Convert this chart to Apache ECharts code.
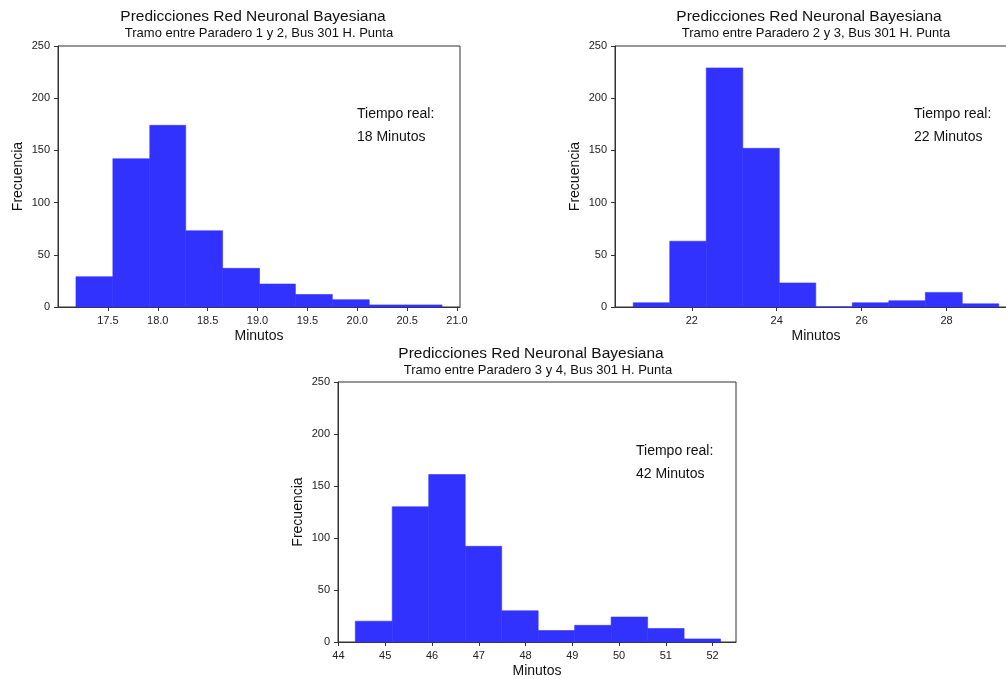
<!DOCTYPE html>
<html>
<head>
<meta charset="utf-8">
<script src="https://cdn.jsdelivr.net/npm/echarts@6/dist/echarts.min.js"></script>
<style>
  html, body { margin: 0; padding: 0; background: #fff; overflow: hidden; }
  /* el segundo panel queda cortado a la derecha, como en la imagen original */
  #chart { width: 1040px; height: 679px; }
</style>
</head>
<body>
<div id="chart"></div>
<script>
// bordes de los bins y frecuencias
const edges1 = [17.18, 17.55, 17.92, 18.28, 18.65, 19.02, 19.38, 19.75, 20.12, 20.48, 20.85];
const counts1 = [29, 142, 174, 73, 37, 22, 12, 7, 2, 2];
const edges2 = [20.62, 21.48, 22.34, 23.20, 24.06, 24.92, 25.78, 26.64, 27.50, 28.37, 29.23];
const counts2 = [4, 63, 229, 152, 23, 0, 4, 6, 14, 3];
const edges3 = [44.36, 45.15, 45.93, 46.71, 47.49, 48.27, 49.05, 49.83, 50.61, 51.39, 52.17];
const counts3 = [20, 130, 161, 92, 30, 11, 16, 24, 13, 3];

const xTicks1 = [17.5, 18.0, 18.5, 19.0, 19.5, 20.0, 20.5, 21.0];
const xTicks2 = [22, 24, 26, 28];
const xTicks3 = [44, 45, 46, 47, 48, 49, 50, 51, 52];
const yTicks = [0, 50, 100, 150, 200, 250];

const titulo = "Predicciones Red Neuronal Bayesiana";
const subtitulos = [
  "Tramo entre Paradero 1 y 2, Bus 301 H. Punta",
  "Tramo entre Paradero 2 y 3, Bus 301 H. Punta",
  "Tramo entre Paradero 3 y 4, Bus 301 H. Punta"
];
const tiempoReal = ["18 Minutos", "22 Minutos", "42 Minutos"];

const FONT = "'Liberation Sans', Arial, sans-serif";
const AXIS_COLOR = "#333";
const BAR_COLOR = "#3232ff";

const chart = echarts.init(document.getElementById("chart"));

const grids = [
  { left: 58, top: 46, width: 402, height: 261 },
  { left: 615, top: 46, width: 402, height: 261 },
  { left: 338, top: 382, width: 398, height: 261 }
];
const xRanges = [[17.0, 21.03], [20.19, 29.66], [43.99, 52.5]];
const xTickSets = [xTicks1, xTicks2, xTicks3];
const xFormat = [
  (v) => v.toFixed(1),
  (v) => String(v),
  (v) => String(v)
];

function buildData(edges, counts) {
  return counts.map((c, i) => [edges[i], edges[i + 1], c]);
}

function renderBin(params, api) {
  const p0 = api.coord([api.value(0), api.value(2)]);
  const p1 = api.coord([api.value(1), 0]);
  return {
    type: "rect",
    shape: { x: p0[0], y: p0[1], width: p1[0] - p0[0], height: p1[1] - p0[1] },
    style: { fill: BAR_COLOR, stroke: BAR_COLOR, lineWidth: 0.6 }
  };
}

const xAxes = grids.map((g, i) => ({
  type: "value",
  gridIndex: i,
  min: xRanges[i][0],
  max: xRanges[i][1],
  splitLine: { show: false },
  axisLine: { show: true, lineStyle: { color: AXIS_COLOR, width: 1 } },
  axisTick: { show: true, length: 4, lineStyle: { color: AXIS_COLOR }, customValues: xTickSets[i] },
  axisLabel: {
    color: "#222", fontSize: 11, fontFamily: FONT, margin: 8,
    customValues: xTickSets[i], formatter: xFormat[i]
  },
  name: "Minutos",
  nameLocation: "middle",
  nameGap: 22,
  nameTextStyle: { color: "#111", fontSize: 14, fontFamily: FONT }
}));

const yAxes = grids.map((g, i) => ({
  type: "value",
  gridIndex: i,
  min: 0,
  max: 250,
  splitLine: { show: false },
  axisLine: { show: true, lineStyle: { color: AXIS_COLOR, width: 1 } },
  axisTick: { show: true, length: 4, lineStyle: { color: AXIS_COLOR }, customValues: yTicks },
  axisLabel: { color: "#222", fontSize: 11, fontFamily: FONT, margin: 8, customValues: yTicks },
  name: "Frecuencia",
  nameLocation: "middle",
  nameGap: 33,
  nameTextStyle: { color: "#111", fontSize: 14, fontFamily: FONT }
}));

const titlePos = [
  { tx: 253, ty: 17, sx: 259, sy: 33 },
  { tx: 809, ty: 17, sx: 816, sy: 33 },
  { tx: 531, ty: 354, sx: 538, sy: 370 }
];
const notePos = [
  { x: 357, y: 114 },
  { x: 914, y: 114 },
  { x: 636, y: 451 }
];

const graphics = [];
titlePos.forEach((p, i) => {
  graphics.push({
    type: "text", x: p.tx, y: p.ty,
    style: { text: titulo, font: "15.5px " + FONT, fill: "#111", textAlign: "center", textVerticalAlign: "middle" }
  });
  graphics.push({
    type: "text", x: p.sx, y: p.sy,
    style: { text: subtitulos[i], font: "13px " + FONT, fill: "#111", textAlign: "center", textVerticalAlign: "middle" }
  });
  graphics.push({
    type: "text", x: notePos[i].x, y: notePos[i].y,
    style: { text: "Tiempo real:", font: "14px " + FONT, fill: "#111", textAlign: "left", textVerticalAlign: "middle" }
  });
  graphics.push({
    type: "text", x: notePos[i].x, y: notePos[i].y + 23,
    style: { text: tiempoReal[i], font: "14px " + FONT, fill: "#111", textAlign: "left", textVerticalAlign: "middle" }
  });
});

const option = {
  animation: false,
  grid: grids.map((g) => Object.assign({ show: true, borderColor: AXIS_COLOR, borderWidth: 1, backgroundColor: "transparent" }, g)),
  xAxis: xAxes,
  yAxis: yAxes,
  graphic: graphics,
  series: [
    { type: "custom", xAxisIndex: 0, yAxisIndex: 0, renderItem: renderBin, data: buildData(edges1, counts1), encode: { x: [0, 1], y: 2 } },
    { type: "custom", xAxisIndex: 1, yAxisIndex: 1, renderItem: renderBin, data: buildData(edges2, counts2), encode: { x: [0, 1], y: 2 } },
    { type: "custom", xAxisIndex: 2, yAxisIndex: 2, renderItem: renderBin, data: buildData(edges3, counts3), encode: { x: [0, 1], y: 2 } }
  ]
};

chart.setOption(option);
</script>
</body>
</html>
